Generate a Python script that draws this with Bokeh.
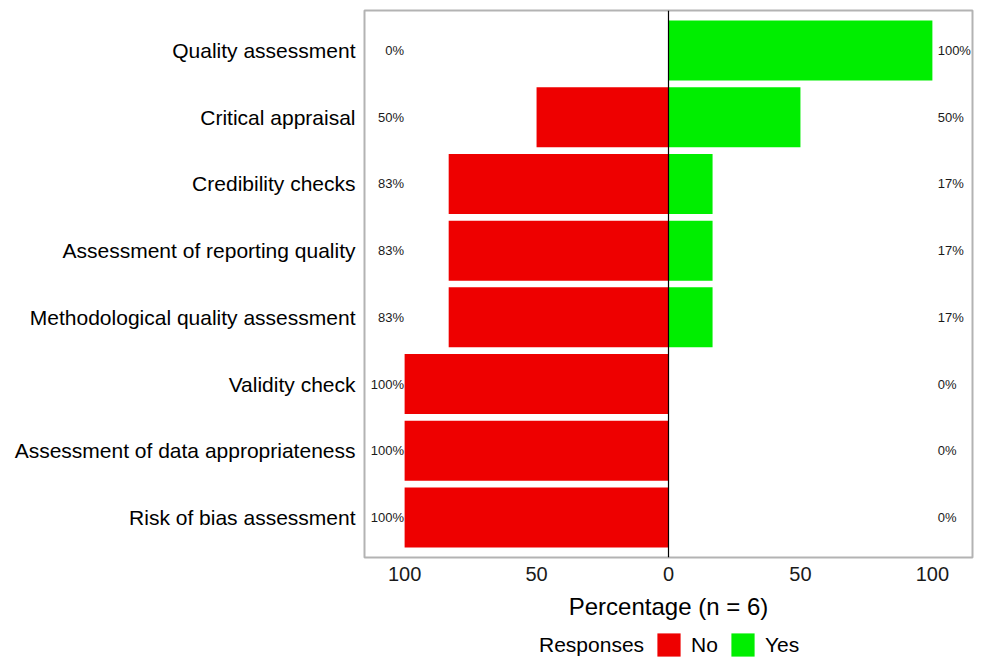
from bokeh.plotting import figure
from bokeh.layouts import column
from bokeh.models import (ColumnDataSource, FactorRange, Range1d, FixedTicker, Span,
                          Legend, LegendItem)
from bokeh.embed import file_html
from bokeh.resources import INLINE

categories = ["Quality assessment", "Critical appraisal", "Credibility checks",
              "Assessment of reporting quality", "Methodological quality assessment",
              "Validity check", "Assessment of data appropriateness", "Risk of bias assessment"]
no_pct = [0, 50, 83.3, 83.3, 83.3, 100, 100, 100]
yes_pct = [100, 50, 16.7, 16.7, 16.7, 0, 0, 0]
no_labels = ["0%", "50%", "83%", "83%", "83%", "100%", "100%", "100%"]
yes_labels = ["100%", "50%", "17%", "17%", "17%", "0%", "0%", "0%"]
tick_values = [-100, -50, 0, 50, 100]
tick_labels = ["100", "50", "0", "50", "100"]
legend_title = "Responses"
legend_labels = ["No", "Yes"]

FONT = "Liberation Sans"
RED = "#ee0000"
GREEN = "#00ee00"

src = ColumnDataSource(dict(
    cat=categories,
    no_left=[-v for v in no_pct],
    zero=[0] * len(categories),
    yes=yes_pct,
    no_lab=no_labels,
    yes_lab=yes_labels,
    lx=[-100.2] * len(categories),
    rx=[102.0] * len(categories),
))

p = figure(width=978, height=625, output_backend="svg", toolbar_location=None,
           y_range=FactorRange(factors=list(reversed(categories)), range_padding=0.1,
                               range_padding_units="absolute"),
           x_range=Range1d(-115.2, 115.2),
           frame_width=608, frame_height=547,
           min_border_left=364, min_border_right=6, min_border_top=10, min_border_bottom=68)

r_no = p.hbar(y="cat", left="no_left", right="zero", height=0.9, source=src,
              fill_color=RED, line_color=None)
r_yes = p.hbar(y="cat", left="zero", right="yes", height=0.9, source=src,
               fill_color=GREEN, line_color=None)

p.add_layout(Span(location=0, dimension="height", line_color="black", line_width=1.2))

p.text(x="lx", y="cat", text="no_lab", source=src, text_align="right",
       text_baseline="middle", text_font_size="13px", text_color="#1a1a1a",
       text_font={"value": FONT})
p.text(x="rx", y="cat", text="yes_lab", source=src, text_align="left",
       text_baseline="middle", text_font_size="13px", text_color="#1a1a1a",
       text_font={"value": FONT})

p.xgrid.grid_line_color = None
p.ygrid.grid_line_color = None
p.outline_line_color = "#b3b3b3"
p.outline_line_width = 2
p.background_fill_color = "white"

xa = p.xaxis[0]
xa.ticker = FixedTicker(ticks=tick_values)
xa.major_label_overrides = {v: l for v, l in zip(tick_values, tick_labels)}
xa.axis_line_color = None
xa.major_tick_line_color = None
xa.minor_tick_line_color = None
xa.major_label_text_font = FONT
xa.major_label_text_font_size = "20px"
xa.major_label_text_color = "#1a1a1a"
xa.major_label_standoff = 3
xa.axis_label = "Percentage (n = 6)"
xa.axis_label_text_font = FONT
xa.axis_label_text_font_size = "24px"
xa.axis_label_text_font_style = "normal"
xa.axis_label_text_color = "black"
xa.axis_label_standoff = 9

ya = p.yaxis[0]
ya.axis_line_color = None
ya.major_tick_line_color = None
ya.minor_tick_line_color = None
ya.major_label_text_font = FONT
ya.major_label_text_font_size = "21px"
ya.major_label_text_color = "black"
ya.major_label_standoff = 3

# legend strip (its frame is aligned with the main plot's frame by the column)
lf = figure(width=978, height=34, output_backend="svg", toolbar_location=None,
            x_range=Range1d(0, 1), y_range=Range1d(0, 1),
            x_axis_type=None, y_axis_type=None,
            outline_line_color=None,
            min_border_left=364, min_border_right=6, min_border_top=0, min_border_bottom=0)
lf.background_fill_color = "white"
lf.border_fill_color = "white"
# proxy renderers placed fully outside the visible ranges; they only supply legend swatches
l_title = lf.hbar(y=[-5], left=[5], right=[6], height=0.9, fill_alpha=0, line_alpha=0)
l_no = lf.hbar(y=[-5], left=[5], right=[6], height=0.9, fill_color=RED, line_color=None)
l_yes = lf.hbar(y=[-5], left=[5], right=[6], height=0.9, fill_color=GREEN, line_color=None)

legend = Legend(items=[LegendItem(label=legend_title, renderers=[l_title]),
                       LegendItem(label=legend_labels[0], renderers=[l_no]),
                       LegendItem(label=legend_labels[1], renderers=[l_yes])],
                orientation="horizontal", location=(138, 0),
                glyph_width=29, glyph_height=29, label_standoff=8, spacing=10,
                padding=0, margin=0, border_line_color=None, background_fill_alpha=0,
                label_text_font=FONT, label_text_font_size="21px", label_text_color="black",
                label_height=29)
lf.add_layout(legend, "center")

open("out.html", "w").write(file_html(column(p, lf, spacing=0), INLINE))
